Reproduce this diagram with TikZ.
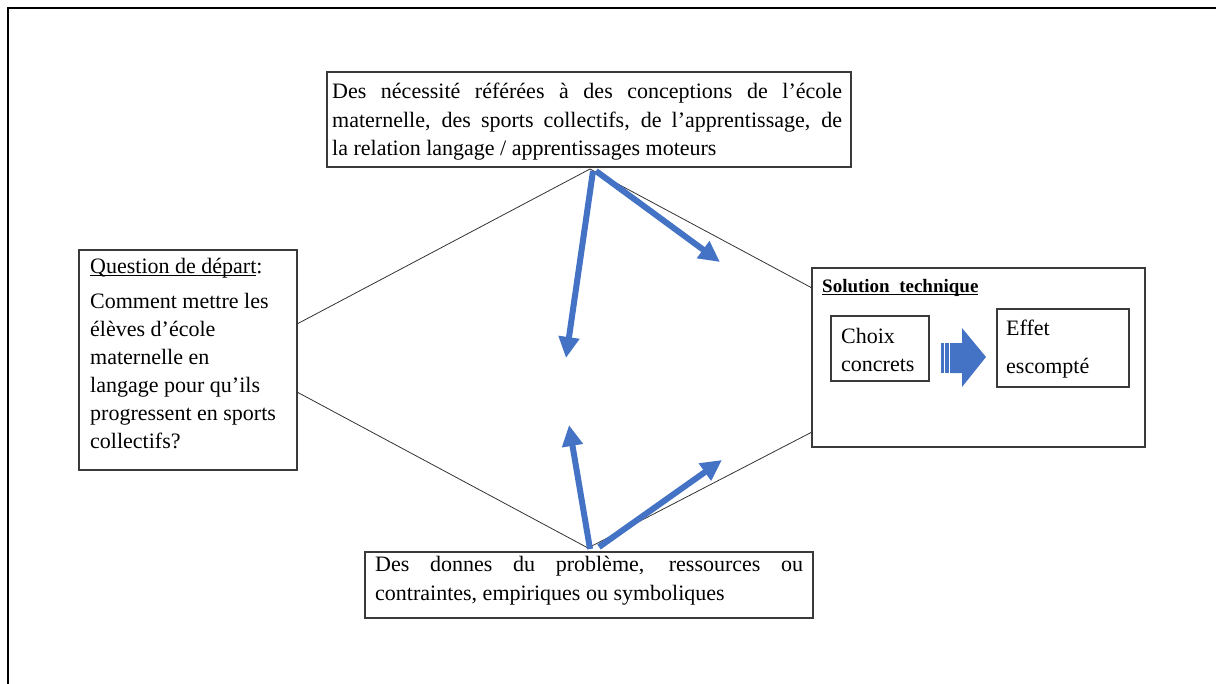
\documentclass[tikz,border=0pt]{standalone}
\usepackage{fontspec}
\setmainfont{Liberation Serif}
\usetikzlibrary{arrows.meta,calc}
\definecolor{arrowblue}{HTML}{4472C4}
\definecolor{boxgray}{HTML}{3A3A3A}
\definecolor{linegray}{HTML}{333333}
\newcommand{\myul}[1]{\setbox0\hbox{#1}\rlap{\rule[-2.5pt]{\wd0}{1pt}}\box0}
\begin{document}
\begin{tikzpicture}[x=1pt,y=-1pt,
  box/.style={draw=boxgray,line width=1.1pt,inner sep=0pt,outer sep=0pt,anchor=north west},
  txt/.style={anchor=base west,inner sep=0pt,font=\fontsize{22}{28}\selectfont},
  ttl/.style={anchor=base west,inner sep=0pt,font=\fontsize{19}{24}\selectfont\bfseries},
  link/.style={draw=linegray,line width=0.8pt},
  bluearrow/.style={draw=arrowblue,line width=6pt,-{Triangle[length=21pt,width=20pt]}}]
\useasboundingbox (0,0) rectangle (1216,683);
% outer frame
\draw[line width=2pt] (8,700) -- (8,8) -- (1230,8);

% top box
\node[box,minimum width=524pt,minimum height=95pt] (need) at (327,72) {};
\node[txt] (n1) at (332,98) {\makebox[510pt][s]{Des nécessité référées à des conceptions de l’école}};
\node[txt] (n2) at (332,127) {\makebox[510pt][s]{maternelle, des sports collectifs, de l’apprentissage, de}};
\node[txt] (n3) at (332,155) {la relation langage / apprentissages moteurs};

% left box
\node[box,minimum width=218pt,minimum height=220pt] (q) at (79,250) {};
\node[txt] (q0) at (90,273) {\myul{Question de départ}:};
\node[txt] (q1) at (90,308) {Comment mettre les};
\node[txt] (q2) at (90,336) {élèves d’école};
\node[txt] (q3) at (90,364) {maternelle en};
\node[txt] (q4) at (90,392) {langage pour qu’ils};
\node[txt] (q5) at (90,420) {progressent en sports};
\node[txt] (q6) at (90,448) {collectifs?};

% solution box
\node[box,minimum width=333pt,minimum height=179pt] (sol) at (812,268) {};
\node[ttl] (st) at (822,292) {\myul{Solution\ \ technique}};
\node[box,minimum width=98pt,minimum height=65pt] (choix) at (831,316) {};
\node[txt] (c1) at (841,343) {Choix};
\node[txt] (c2) at (841,371) {concrets};
\node[box,minimum width=132pt,minimum height=78pt] (effet) at (997,309) {};
\node[txt] (e1) at (1006,335) {Effet};
\node[txt] (e2) at (1006,373) {escompté};
% striped block arrow
\fill[arrowblue] (962,328) -- (986,357) -- (962,387) -- (962,373) -- (950,373) -- (950,343) -- (962,343) -- cycle;
\fill[arrowblue] (941,343) rectangle (943.5,373);
\fill[arrowblue] (945,343) rectangle (948.5,373);

% bottom box
\node[box,minimum width=448pt,minimum height=66pt] (bot) at (365,552) {};
\node[txt] (b1) at (375,571) {\makebox[428pt][s]{Des donnes du problème, ressources ou}};
\node[txt] (b2) at (375,600) {contraintes, empiriques ou symboliques};

% thin links
\coordinate (ql) at ($(q.north east)+(0,74)$);
\coordinate (qh) at ($(q.north east)+(0,142)$);
\coordinate (sl) at ($(sol.north west)+(0,20)$);
\coordinate (sh) at ($(sol.north west)+(0,164)$);
\draw[link] (ql) -- ($(need.south)+(1,2)$) -- (sl);
\draw[link] (qh) -- ($(bot.north)+(-1,-4)$) -- (sh);

% blue arrows
\coordinate (t1) at (566,358);
\coordinate (t2) at (720,262);
\coordinate (t3) at (569,425);
\coordinate (t4) at (722,460);
\draw[bluearrow] ($(need.south)+(4,4)$) -- (t1);
\draw[bluearrow] ($(need.south)+(7,4)$) -- (t2);
\draw[bluearrow] ($(bot.north)+(1,-3)$) -- (t3);
\draw[bluearrow] ($(bot.north)+(10,-5)$) -- (t4);
\end{tikzpicture}
\end{document}
